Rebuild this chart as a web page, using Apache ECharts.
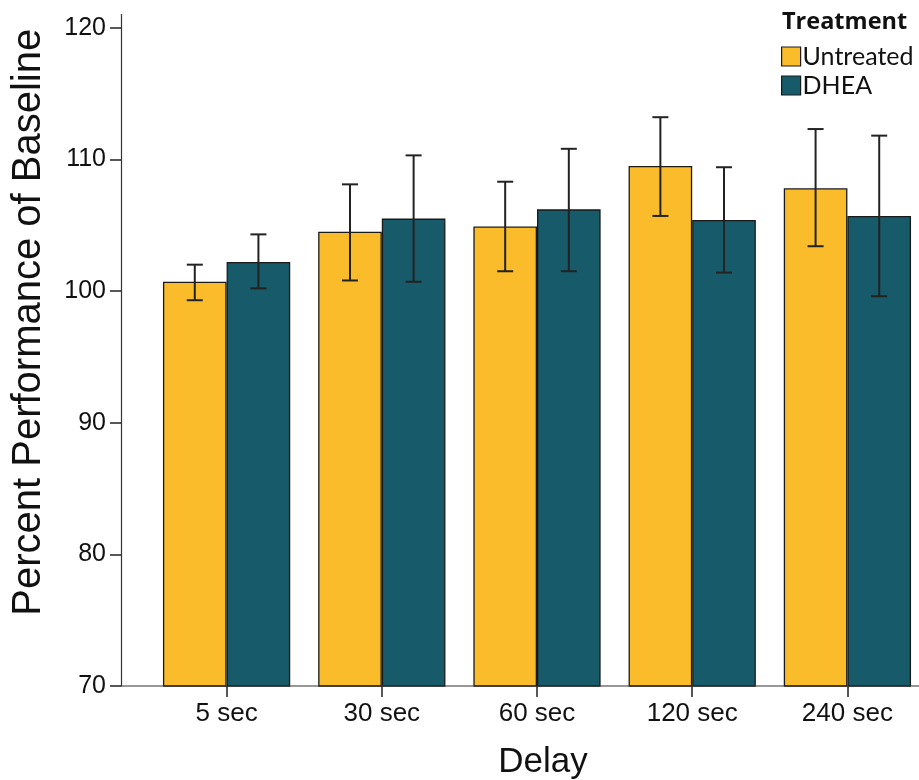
<!DOCTYPE html>
<html>
<head>
<meta charset="utf-8">
<style>
  html, body { margin: 0; padding: 0; background: #fff; }
  #chart { width: 919px; height: 780px; }
</style>
<script src="https://cdn.jsdelivr.net/npm/echarts@6/dist/echarts.min.js"></script>
</head>
<body>
<div id="chart"></div>
<script>
// Delay conditions on the x axis
const categories = ['5 sec', '30 sec', '60 sec', '120 sec', '240 sec'];
const seriesNames = ['Untreated', 'DHEA'];

// Mean percent of baseline performance
const untreatedMean = [100.7, 104.5, 104.9, 109.5, 107.8];
const dheaMean      = [102.2, 105.5, 106.2, 105.4, 105.7];

// Error bar limits (lower / upper)
const untreatedLow  = [99.3, 100.8, 101.5, 105.7, 103.4];
const untreatedHigh = [102.0, 108.1, 108.3, 113.2, 112.3];
const dheaLow       = [100.2, 100.7, 101.5, 101.4, 99.6];
const dheaHigh      = [104.3, 110.3, 110.8, 109.4, 111.8];

// Y axis tick labels
const yTicks = [70, 80, 90, 100, 110, 120];

const colors = ['#FBBC2B', '#175A6A'];
const FONT = '"Liberation Sans", Arial, sans-serif';

const chart = echarts.init(document.getElementById('chart'), null, { renderer: 'canvas' });

const barCategoryGap = 0.18;
// offset of each bar centre from the category centre, as a share of the band
const barOffsets = [-(1 - barCategoryGap) / 4, (1 - barCategoryGap) / 4];

function errorBarSeries(idx, low, high) {
  const data = categories.map((c, i) => [i, low[i], high[i]]);
  return {
    type: 'custom',
    name: seriesNames[idx] + ' error',
    z: 10,
    silent: true,
    data: data,
    encode: { x: 0, y: [1, 2] },
    renderItem: function (params, api) {
      const cat = api.value(0);
      const band = api.size([1, 0])[0];
      const lo = api.coord([cat, api.value(1)]);
      const hi = api.coord([cat, api.value(2)]);
      const x = lo[0] + barOffsets[idx] * band;
      const cap = 8;
      const style = { stroke: '#222', lineWidth: 2 };
      return {
        type: 'group',
        children: [
          { type: 'line', shape: { x1: x, y1: lo[1], x2: x, y2: hi[1] }, style: style },
          { type: 'line', shape: { x1: x - cap, y1: hi[1], x2: x + cap, y2: hi[1] }, style: style },
          { type: 'line', shape: { x1: x - cap, y1: lo[1], x2: x + cap, y2: lo[1] }, style: style }
        ]
      };
    }
  };
}

const option = {
  animation: false,
  backgroundColor: '#ffffff',
  textStyle: { fontFamily: FONT },
  title: {
    text: 'Treatment',
    left: 782,
    top: 10,
    padding: 0,
    textStyle: { fontFamily: '"Open Sans", sans-serif', fontWeight: 'bold', fontSize: 23.5, color: '#111' }
  },
  legend: {
    orient: 'vertical',
    left: 781,
    top: 44,
    padding: 0,
    itemWidth: 19,
    itemHeight: 19,
    itemGap: 4,
    icon: 'rect',
    selectedMode: false,
    data: seriesNames,
    itemStyle: { borderColor: '#1a1a1a', borderWidth: 1.2 },
    textStyle: { fontFamily: 'Lato, sans-serif', fontSize: 25, color: '#111', padding: [0, 0, 4, -3] }
  },
  grid: { left: 149, top: 14.5, width: 776, height: 671.5, outerBoundsMode: 'none', containLabel: false },
  xAxis: {
    type: 'category',
    data: categories,
    name: 'Delay',
    nameLocation: 'middle',
    nameGap: 59,
    nameTextStyle: { fontFamily: FONT, fontSize: 35, color: '#111', padding: [0, 0, 0, 12] },
    axisLine: { show: false },
    axisTick: { show: true, alignWithLabel: true, length: 11, lineStyle: { color: '#222', width: 1.5 } },
    axisLabel: { fontFamily: FONT, fontSize: 26, color: '#111', margin: 15 },
    splitLine: { show: false }
  },
  yAxis: {
    type: 'value',
    min: 70,
    max: 121,
    interval: 10,
    offset: 28,
    name: 'Percent Performance of Baseline',
    nameLocation: 'middle',
    nameGap: 72,
    nameTextStyle: { fontFamily: FONT, fontSize: 40, color: '#111', padding: [0, 0, 0, 56] },
    axisLine: { show: true, lineStyle: { color: '#333', width: 1.2 } },
    axisTick: { show: true, length: 11, customValues: yTicks, lineStyle: { color: '#222', width: 1.5 } },
    axisLabel: { fontFamily: FONT, fontSize: 25, color: '#111', margin: 15, customValues: yTicks },
    splitLine: { show: false }
  },
  series: [
    {
      name: seriesNames[0],
      type: 'bar',
      data: untreatedMean,
      barGap: '0%',
      barCategoryGap: (barCategoryGap * 100) + '%',
      itemStyle: { color: colors[0], borderColor: '#1a1a1a', borderWidth: 1.3 }
    },
    {
      name: seriesNames[1],
      type: 'bar',
      data: dheaMean,
      barGap: '0%',
      barCategoryGap: (barCategoryGap * 100) + '%',
      itemStyle: { color: colors[1], borderColor: '#1a1a1a', borderWidth: 1.3 }
    },
    errorBarSeries(0, untreatedLow, untreatedHigh),
    errorBarSeries(1, dheaLow, dheaHigh)
  ]
};

chart.setOption(option);

// Baseline of the x axis, from the y axis line to the right edge
const base = chart.convertToPixel({ yAxisIndex: 0 }, 70);
chart.setOption({
  graphic: [{
    type: 'line',
    z: 20,
    shape: { x1: 149 - 28, y1: base, x2: 919, y2: base },
    style: { stroke: '#333', lineWidth: 1.2 }
  }]
});
</script>
</body>
</html>
